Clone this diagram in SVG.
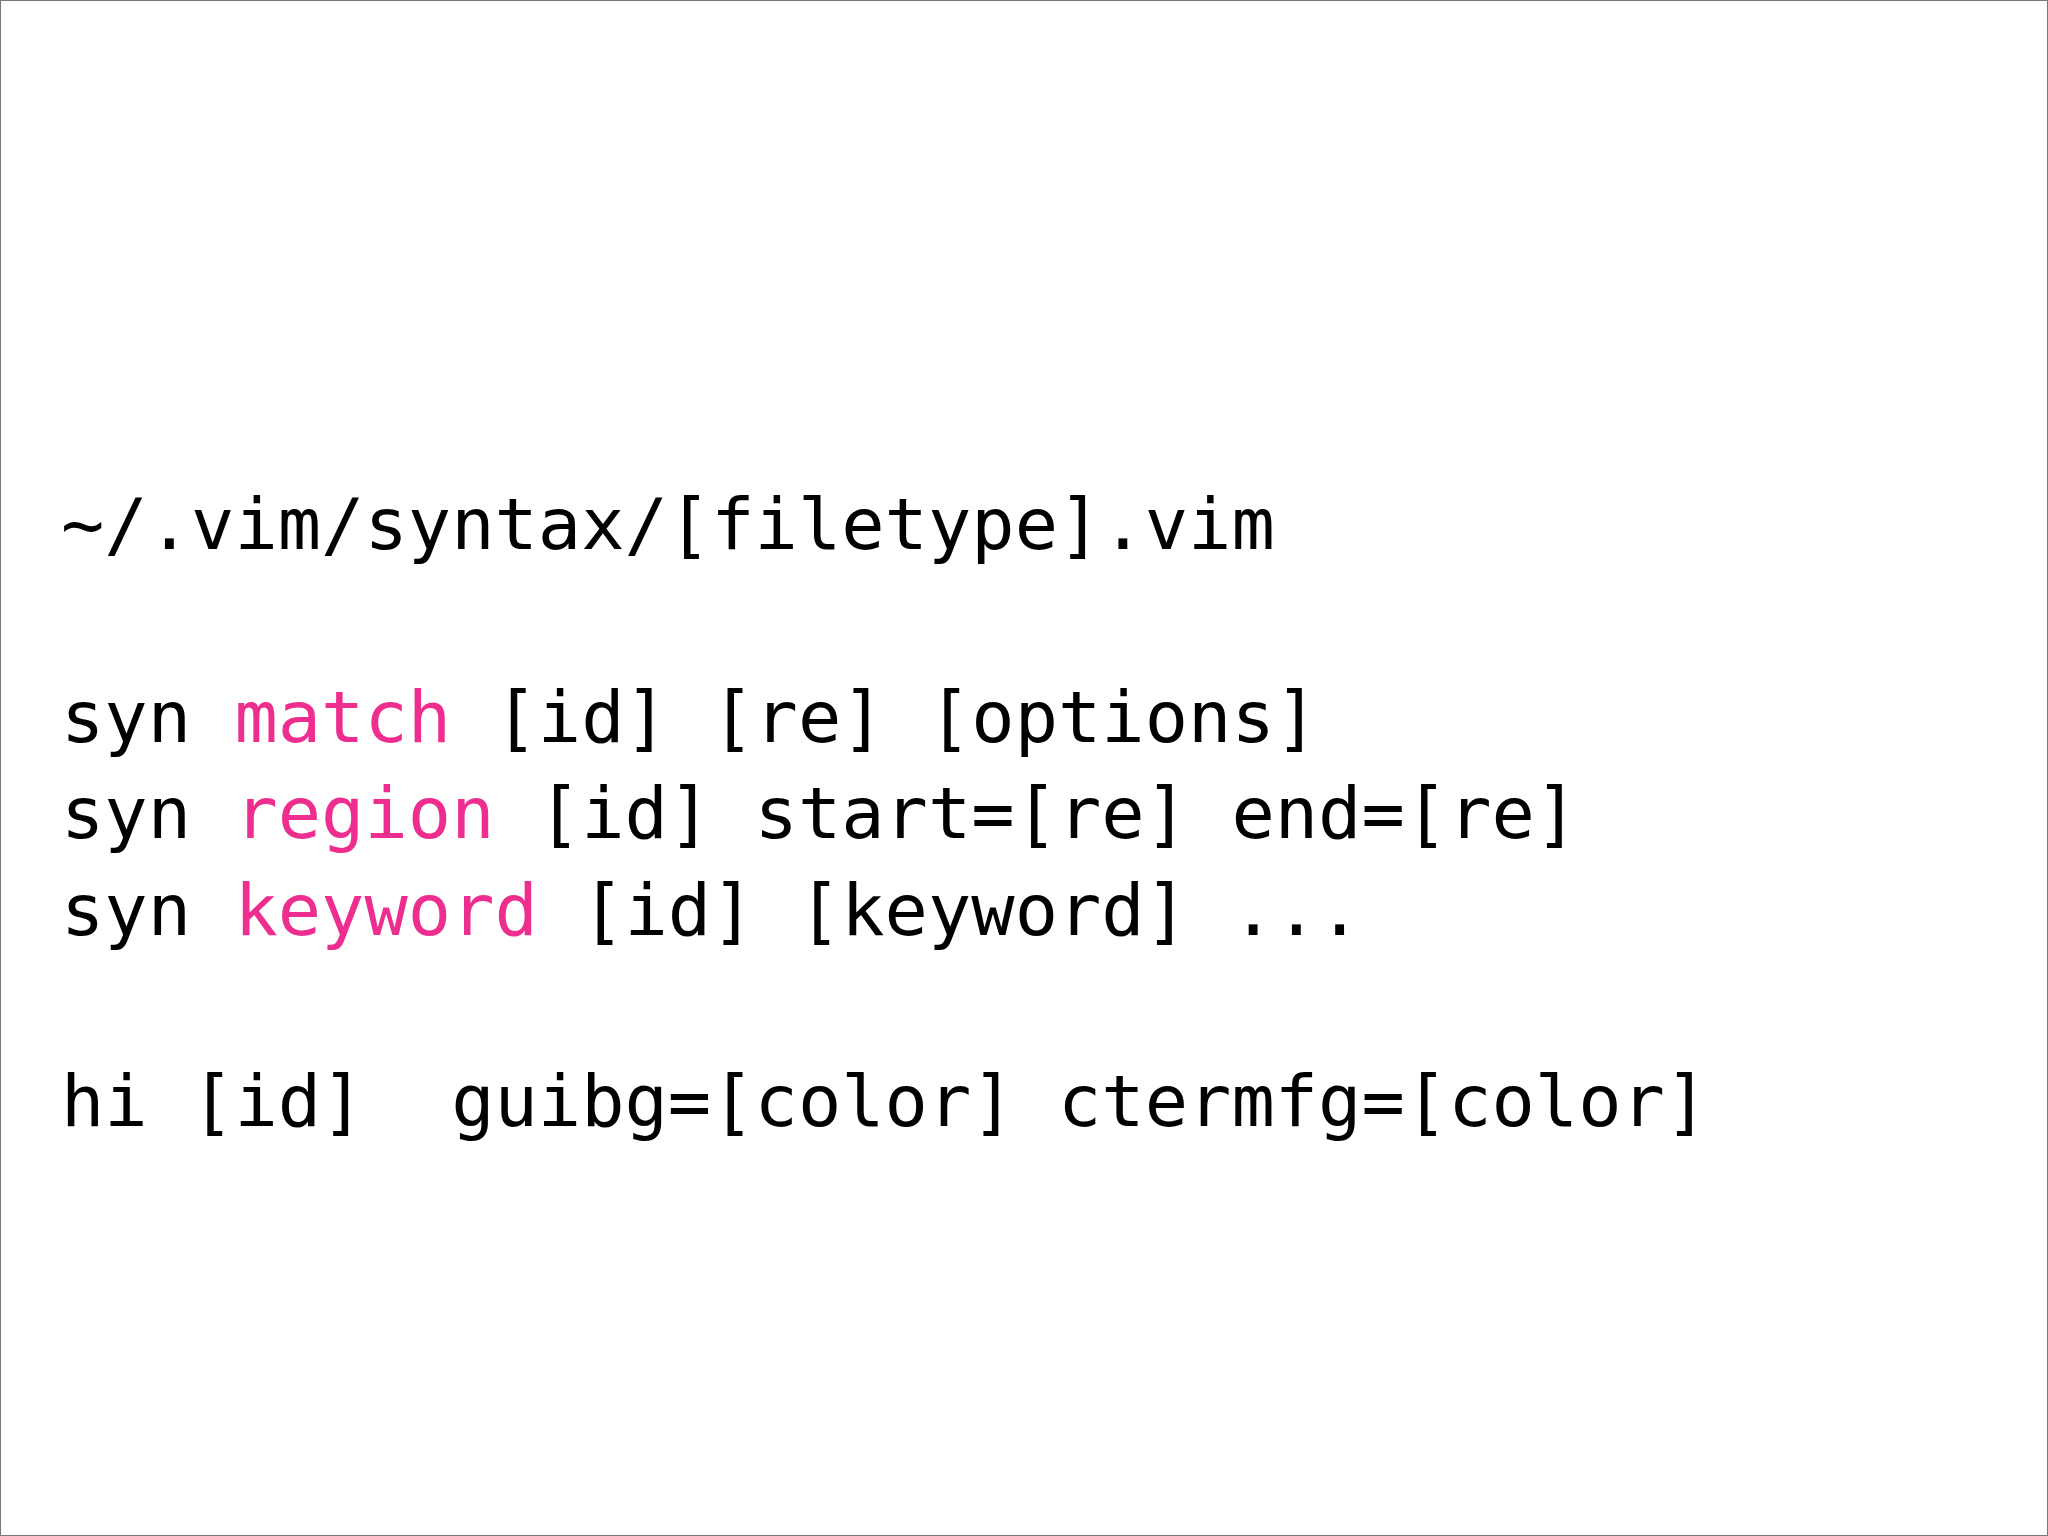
<svg xmlns="http://www.w3.org/2000/svg" width="2048" height="1536" viewBox="0 0 2048 1536">
<style>
text{font-family:"DejaVu Sans Mono","Liberation Mono",monospace;font-size:72px;fill:#000;white-space:pre}
.k{fill:#ee2e8e}
</style>
<rect x="0.5" y="0.5" width="2047" height="1535" fill="#fff" stroke="#777" stroke-width="1"/>
<g id="path"><text x="61" y="549">~/.vim/syntax/[filetype].vim</text></g>
<g id="match"><text x="61" y="742">syn <tspan class="k">match</tspan> [id] [re] [options]</text></g>
<g id="region"><text x="61" y="838">syn <tspan class="k">region</tspan> [id] start=[re] end=[re]</text></g>
<g id="keyword"><text x="61" y="935">syn <tspan class="k">keyword</tspan> [id] [keyword] ...</text></g>
<g id="hi"><text x="61" y="1126" xml:space="preserve">hi [id]  guibg=[color] ctermfg=[color]</text></g>
<g id="connectors"/>
</svg>
